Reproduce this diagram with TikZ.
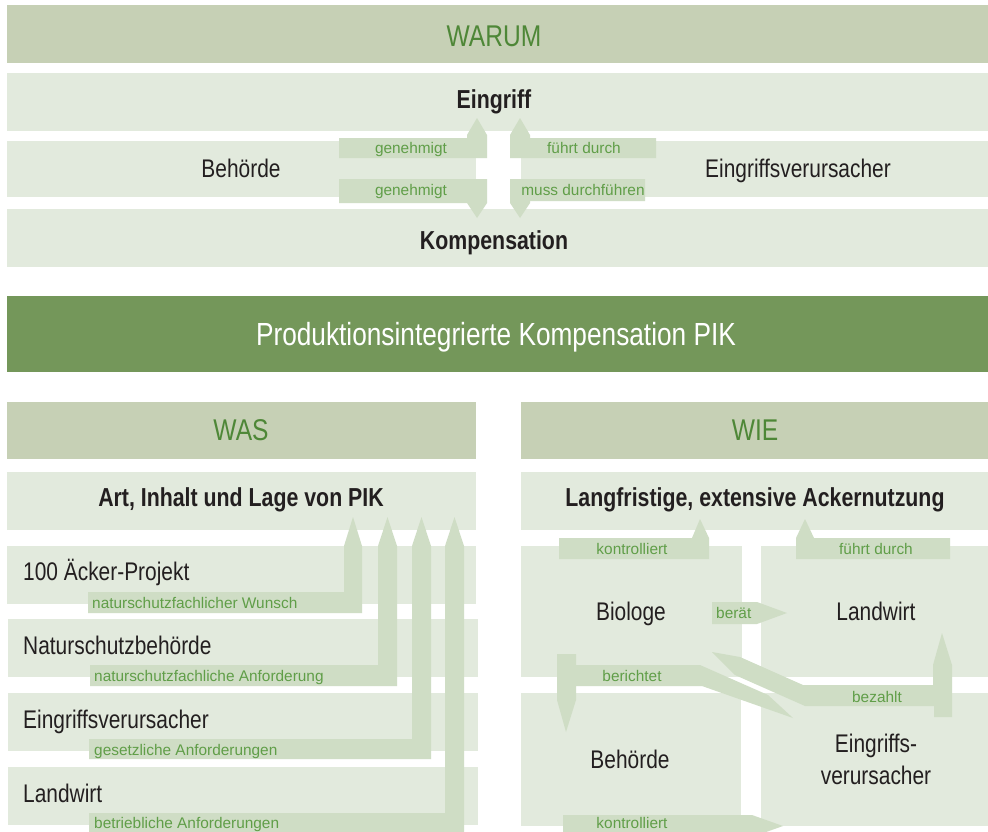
\documentclass[tikz,border=0pt]{standalone}
\usepackage{fontspec}
\setmainfont{Liberation Sans}
\newfontfamily\cond{Liberation Sans}[FakeStretch=0.82]
\definecolor{hdrband}{RGB}{198,208,181}
\definecolor{lightband}{RGB}{226,234,221}
\definecolor{arrowc}{RGB}{207,221,197}
\definecolor{pikband}{RGB}{116,151,90}
\definecolor{hdrtext}{RGB}{78,135,55}
\definecolor{lbltext}{RGB}{96,158,72}
\definecolor{txt}{RGB}{35,31,32}
\begin{document}
\begin{tikzpicture}[x=1pt,y=-1pt,
  band/.style={fill=lightband},
  hdr/.style={fill=hdrband},
  arr/.style={fill=arrowc},
  lbl/.style={text=lbltext,font=\fontsize{15.4}{18}\selectfont,inner sep=0pt,anchor=base},
  lblw/.style={lbl,anchor=base west},
  body/.style={text=txt,font=\cond\fontsize{25.5}{30}\selectfont,inner sep=0pt,anchor=base},
  bodyw/.style={body,anchor=base west},
  bhead/.style={text=txt,font=\cond\bfseries\fontsize{26}{30}\selectfont,inner sep=0pt,anchor=base},
  title/.style={text=hdrtext,font=\cond\fontsize{30}{34}\selectfont,inner sep=0pt,anchor=base}]
\useasboundingbox (0,0) rectangle (988,831);
\clip (0,0) rectangle (988,831);
\fill[white] (0,0) rectangle (988,831);

% ---------- WARUM section ----------
\fill[hdr]  (7,5)   rectangle (988,63);
\fill[band] (7,73)  rectangle (988,131);
\fill[band] (7,141) rectangle (476,197);
\fill[band] (521,141) rectangle (988,197);
\fill[band] (7,209) rectangle (988,267);

\fill[arr] (339,138) -- (467,138) -- (467,135) -- (477,118) -- (487,135) -- (487,158) -- (339,158) -- cycle;
\fill[arr] (339,179) -- (487,179) -- (487,203) -- (477,218) -- (467,203) -- (339,203) -- cycle;
\fill[arr] (656,138) -- (530,138) -- (530,135) -- (520,118) -- (510,135) -- (510,158) -- (656,158) -- cycle;
\fill[arr] (510,179) -- (645,179) -- (645,201) -- (530,201) -- (530,203) -- (520,218) -- (510,203) -- cycle;

\node[title] (warum) at (494,46) {WARUM};
\node[bhead] (eingriff) at (494,108) {Eingriff};
\node[body] (behoerde) at (241,177) {Behörde};
\node[body] (verurs) at (798,177) {Eingriffsverursacher};
\node[bhead] (komp) at (494,249) {Kompensation};
\node[lbl] (gen1) at (411,153) {genehmigt};
\node[lbl] (gen2) at (411,195) {genehmigt};
\node[lbl] (fd1) at (584,153) {führt durch};
\node[lbl] (mdf) at (583,195) {muss durchführen};

% ---------- PIK band ----------
\fill[pikband] (7,296) rectangle (988,372);
\node[text=white,font=\cond\fontsize{32}{36}\selectfont,inner sep=0pt,anchor=base] (pik) at (496,345) {Produktionsintegrierte Kompensation PIK};

% ---------- WAS section ----------
\fill[hdr]  (7,402) rectangle (476,459);
\fill[band] (7,472) rectangle (476,530);
\fill[band] (7,546) rectangle (476,604);
\fill[band] (8,619) rectangle (478,677);
\fill[band] (8,693) rectangle (478,751);
\fill[band] (8,767) rectangle (478,825);

\fill[arr] (88,592) -- (344,592) -- (344,546) -- (353,517) -- (362,546) -- (362,613) -- (88,613) -- cycle;
\fill[arr] (90,665) -- (378,665) -- (378,546) -- (387.5,517) -- (397,546) -- (397,686) -- (90,686) -- cycle;
\fill[arr] (89,739) -- (412,739) -- (412,546) -- (421.5,517) -- (431,546) -- (431,759) -- (89,759) -- cycle;
\fill[arr] (89,813) -- (445,813) -- (445,546) -- (454.5,517) -- (464,546) -- (464,840) -- (89,840) -- cycle;

\node[title] (was) at (241,440) {WAS};
\node[bhead] (art) at (241,506) {Art, Inhalt und Lage von PIK};
\node[bodyw] (acker) at (23,580) {100 Äcker-Projekt};
\node[bodyw] (nsb) at (23,654) {Naturschutzbehörde};
\node[bodyw] (ev) at (23,728) {Eingriffsverursacher};
\node[bodyw] (lw) at (23,802) {Landwirt};
\node[lblw] (l1) at (92,608) {naturschutzfachlicher Wunsch};
\node[lblw] (l2) at (94,681) {naturschutzfachliche Anforderung};
\node[lblw] (l3) at (94,755) {gesetzliche Anforderungen};
\node[lblw] (l4) at (94,828) {betriebliche Anforderungen};

% ---------- WIE section ----------
\fill[hdr]  (521,402) rectangle (988,459);
\fill[band] (521,472) rectangle (988,530);
\fill[band] (521,546) rectangle (742,677);
\fill[band] (761,546) rectangle (988,677);
\fill[band] (521,693) rectangle (741,826);
\fill[band] (761,693) rectangle (988,826);

\fill[arr] (559,538) -- (692,538) -- (700,519) -- (709,538) -- (709,559) -- (559,559) -- cycle;
\fill[arr] (950,538) -- (814,538) -- (805,519) -- (796,538) -- (796,559) -- (950,559) -- cycle;
\fill[arr] (712,602) -- (757,602) -- (787,613) -- (757,624) -- (712,624) -- cycle;
\fill[arr] (712,652) -- (740,657) -- (803,685) -- (933,685) -- (933,665) -- (942,633) -- (952,665) -- (952,717) -- (934,717) -- (934,706) -- (805,706) -- (735,675) -- cycle;
\fill[arr] (557,654) -- (576,654) -- (576,665) -- (700,665) -- (768,695) -- (793,718) -- (702,686) -- (576,686) -- (576,700) -- (566,732) -- (557,700) -- cycle;
\fill[arr] (563,815) -- (752,815) -- (783,826) -- (752,837) -- (563,837) -- cycle;

\node[title] (wie) at (755,440) {WIE};
\node[bhead] (lang) at (755,506) {Langfristige, extensive Ackernutzung};
\node[body] (bio) at (631,620) {Biologe};
\node[body] (lw2) at (876,620) {Landwirt};
\node[body] (beh2) at (630,768) {Behörde};
\node[body] (ev2a) at (876,752) {Eingriffs-};
\node[body] (ev2b) at (876,784) {verursacher};
\node[lbl] (k1) at (632,554) {kontrolliert};
\node[lbl] (fd2) at (876,554) {führt durch};
\node[lblw] (ber) at (716,618) {berät};
\node[lbl] (bez) at (877,702) {bezahlt};
\node[lbl] (bic) at (632,681) {berichtet};
\node[lbl] (k2) at (632,828) {kontrolliert};
\end{tikzpicture}
\end{document}
